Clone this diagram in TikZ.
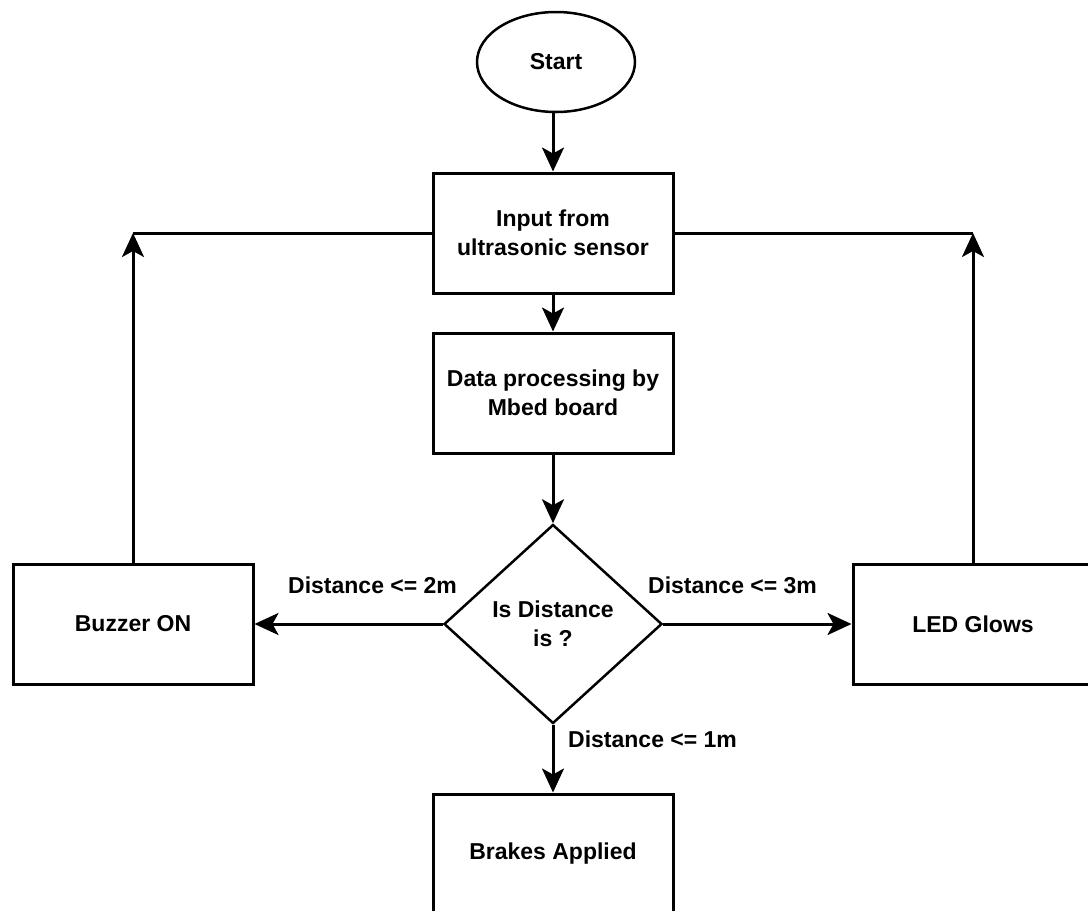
\documentclass[tikz,border=0pt]{standalone}
\usepackage{fontspec}
\setmainfont{Liberation Sans}
\usetikzlibrary{shapes.geometric,arrows.meta}
\begin{document}
\begin{tikzpicture}[x=1pt,y=-1pt,
  every node/.style={font=\bfseries\fontsize{23}{28.5}\selectfont},
  procbox/.style={draw=black,line width=3pt,rectangle,minimum width=240pt,minimum height=120pt,align=center,inner sep=0pt},
  arr/.style={line width=3pt,-{Stealth[length=24pt,width=22pt,inset=6pt]}},
  plain/.style={line width=3pt},
  lbl/.style={inner sep=0pt,anchor=base west}]
\useasboundingbox (0,0) rectangle (1088,911);
\fill[white] (0,0) rectangle (1088,911);
\node[draw=black,line width=2.5pt,ellipse,minimum width=158pt,minimum height=100pt,inner sep=0pt] (start) at (556,62) {Start};
\node[procbox] (input) at (553,233) {Input from\\ultrasonic sensor};
\node[procbox] (data) at (553,393) {Data processing by\\Mbed board};
\node[draw=black,line width=2.5pt,diamond,minimum width=218pt,minimum height=199pt,inner sep=0pt,align=center] (dec) at (553,624) {Is Distance\\is ?};
\node[procbox] (buzz) at (133,624) {Buzzer ON};
\node[procbox] (led) at (973,624) {LED Glows};
\node[procbox] (brake) at (553,854) {Brakes Applied};
\coordinate (cl) at (133,233);
\coordinate (cr) at (973,233);
\draw[arr] (start.south -| input.north) -- (input.north);
\draw[arr] (input.south) -- (data.north);
\draw[arr] (data.south) -- (dec.north);
\draw[arr] (dec.west) -- (buzz.east);
\draw[arr] (dec.east) -- (led.west);
\draw[arr] (dec.south) -- (brake.north);
\draw[arr] (buzz.north) -- (cl);
\draw[plain] (cl) -- (input.west);
\draw[arr] (led.north) -- (cr);
\draw[plain] (cr) -- (input.east);
\node[lbl] (l2) at (288,593) {Distance <= 2m};
\node[lbl] (l3) at (648,593) {Distance <= 3m};
\node[lbl] (l1) at (568,747) {Distance <= 1m};
\end{tikzpicture}
\end{document}
